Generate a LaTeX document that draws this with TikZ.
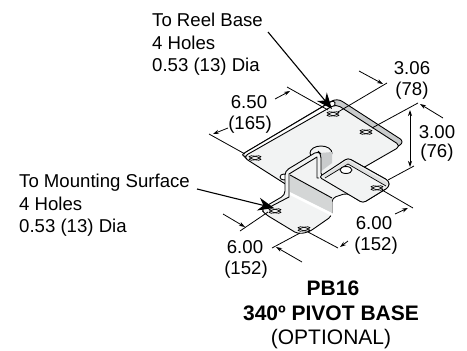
\documentclass[tikz,border=0pt]{standalone}
\usepackage{fontspec,xcolor}
\setmainfont{Liberation Sans}
\usetikzlibrary{arrows.meta}
\definecolor{platefill}{HTML}{F2F3F3}
\definecolor{bandfill}{HTML}{C9CBCC}
\definecolor{facefill}{HTML}{D4D6D6}
\tikzset{
    partline/.style={draw=black,line width=.9pt,line join=round},
    extline/.style={line width=.8pt},
    dimline/.style={line width=.8pt,-{Stealth[length=6pt,width=4pt]}},
    leaderline/.style={line width=1.1pt,-{Stealth[length=16pt,width=13pt]}},
    dimtext/.style={inner sep=0pt,font=\fontsize{18.6}{22.5}\selectfont},
    notetext/.style={dimtext,align=left,anchor=north west},
    titletext/.style={inner sep=0pt,font=\fontsize{21}{24}\selectfont},
    mounthole/.pic={
        \draw[line width=.7pt,rotate=14] (0,0) ellipse (6 and 1.7);
        \draw[line width=.7pt,rotate=-14] (0,0) ellipse (6 and 1.7);
    }
}
\begin{document}
\begin{tikzpicture}[x=1pt,y=-1pt]
        \useasboundingbox (0,0) rectangle (467,351);
        \fill[white] (0,0) rectangle (467,351);
        \draw[partline,fill=bandfill,rounded corners=6pt] (241,155) -- (337,98) -- (405,142) -- (309,199) -- cycle;
        \draw[partline,fill=white,rounded corners=3pt] (241,155) -- (334,100) -- (336,105) -- (246,157) -- cycle;
        \draw[partline,fill=platefill,rounded corners=5pt] (243,157) -- (336,104) -- (401,146) -- (309,199) -- cycle;
        \draw[partline,fill=white] (284,177) ellipse (4 and 3);
        \draw[partline,fill=platefill] (321,153) ellipse (11 and 7);
        \fill[bandfill] (320,153) -- (332,152) -- (332,163) -- (320,172) -- cycle;
        \draw[partline,fill=platefill,rounded corners=4pt] (261,209) -- (285,195) -- (285,171) -- (318,151) -- (321,154) -- (321,177) -- (348,158) -- (389,181) -- (389,187) -- (363,203) -- (347,193) -- (332,198) -- (332,216) -- (309,232) -- (298,234) -- (265,214) -- cycle;
        \fill[facefill] (290,175) -- (332,198) -- (332,213) -- (290,193) -- cycle;
        \fill[white] (290,192) -- (332,213) -- (332,216) -- (290,195) -- cycle;
        \draw[partline] (268,208) -- (289,197) -- (289,174) -- (317,157) -- (317,178) -- (319,178);
        \draw[partline] (290,175) -- (332,198);
        \draw[partline,fill=platefill,rounded corners=3pt] (319,177) -- (348,158) -- (389,181) -- (389,187) -- (363,203) -- cycle;
        \fill[bandfill!60] (323,176) -- (348,160) -- (388,183) -- (386,186) -- (348,164) -- (325,178) -- cycle;
        \draw[partline,line width=.7pt] (325,178) -- (348,164) -- (386,186);
        \draw[partline,fill=white] (346,170) ellipse (6 and 3.5);
        \pic at (333,114) {mounthole};
        \pic at (366,132) {mounthole};
        \pic at (255,158) {mounthole};
        \pic at (377,188) {mounthole};
        \pic at (275,211) {mounthole};
        \pic at (304,229) {mounthole};
        \node[notetext] (reelnote) at (152,13) {To Reel Base\\4 Holes\\0.53 (13) Dia};
        \node[notetext] (mountnote) at (19,174) {To Mounting Surface\\4 Holes\\0.53 (13) Dia};
        \node[dimtext] (widthtop) at (249,102) {6.50};
        \node[dimtext] (widthtopmm) at (250,125) {(165)};
        \node[dimtext] (depthtop) at (412,68) {3.06};
        \node[dimtext] (depthtopmm) at (412,91) {(78)};
        \node[dimtext] (heightval) at (437,132) {3.00};
        \node[dimtext] (heightmm) at (437,153) {(76)};
        \node[dimtext] (footright) at (374,223) {6.00};
        \node[dimtext] (footrightmm) at (376,246) {(152)};
        \node[dimtext] (footleft) at (245,247) {6.00};
        \node[dimtext] (footleftmm) at (246,270) {(152)};
        \node[titletext,font=\fontsize{21}{24}\selectfont\bfseries] (partname) at (333,288) {PB16};
        \node[titletext,font=\fontsize{21}{24}\selectfont\bfseries] (parttitle) at (331,313) {340º PIVOT BASE};
        \node[titletext] (partoption) at (331,339) {(OPTIONAL)};
        \coordinate (reeltip) at (332,109);
        \coordinate (mounttip) at (274,208);
        \draw[leaderline] (268,32) -- (reeltip);
        \draw[leaderline] (197,189) -- (mounttip);
        \draw[extline] (287,87) -- (328,110);
        \draw[extline] (209,134) -- (245,154);
        \draw[dimline] (275,99) -- (290,91);
        \draw[dimline] (228,128) -- (213,134);
        \draw[extline] (338,112) -- (387,83);
        \draw[dimline] (359,71) -- (383,84);
        \draw[extline] (372,128) -- (418,103);
        \draw[dimline] (443,118) -- (420,104);
        \draw[extline] (388,180) -- (414,166);
        \draw[dimline,{Stealth[length=6pt,width=4pt]}-{Stealth[length=6pt,width=4pt]}] (410,110) -- (410,167);
        \draw[extline] (382,190) -- (413,208);
        \draw[dimline] (395,214) -- (408,208);
        \draw[extline] (308,232) -- (338,248);
        \draw[dimline] (348,241) -- (340,247);
        \draw[extline] (268,212) -- (240,231);
        \draw[dimline] (223,214) -- (245,227);
        \draw[extline] (300,233) -- (272,248);
        \draw[dimline] (302,262) -- (276,247);
    \end{tikzpicture}
\end{document}
